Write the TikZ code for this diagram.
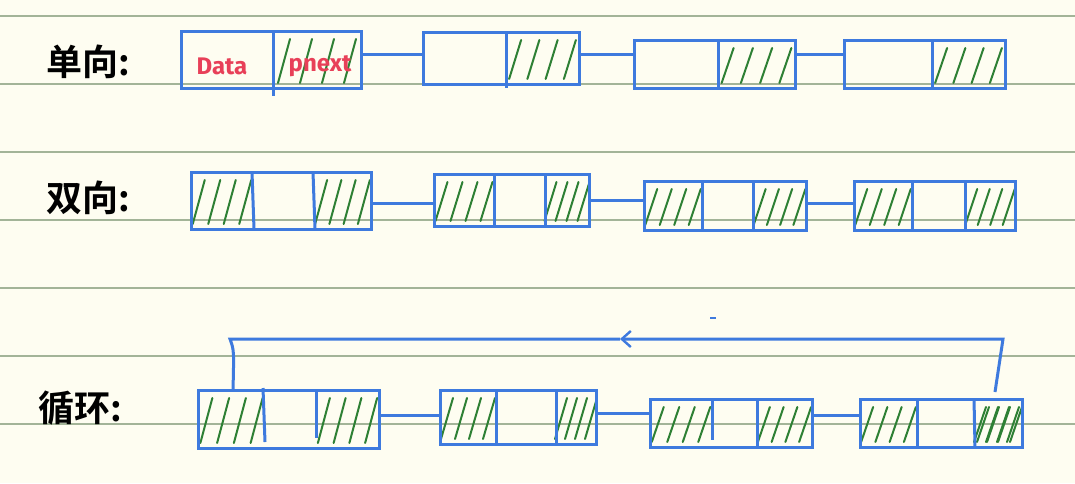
\documentclass[tikz,border=0pt]{standalone}
\usepackage{fontspec}
\newfontfamily\cjk{Noto Sans CJK SC Bold}
\newfontfamily\hand{Fira Sans}
\usetikzlibrary{arrows.meta}
\definecolor{paper}{RGB}{254,253,241}
\definecolor{rule}{RGB}{163,180,152}
\definecolor{pen}{RGB}{62,122,222}
\definecolor{hatchgreen}{RGB}{46,128,52}
\definecolor{ink}{RGB}{232,64,88}
\newcommand\hatchcell[4]{%
  \foreach \i in {1,...,4}{%
    \draw[hatchline] ({#1+(\i-0.5)*(#3-#1)/4-6},{#4-5}) -- ++(12,{-(#4-#2)+13});
  }}
\begin{document}
\begin{tikzpicture}[x=1pt,y=-1pt,
  rulestyle/.style={draw=rule,line width=2pt},
  listbox/.style={draw=pen,line width=3pt,rectangle,inner sep=0pt},
  divider/.style={draw=pen,line width=3pt},
  link/.style={draw=pen,line width=3pt},
  hatchline/.style={draw=hatchgreen,line width=2pt,line cap=round},
  label/.style={font=\cjk\fontsize{36}{38}\selectfont,text=black,anchor=center},
  redtext/.style={font=\hand\bfseries\fontsize{24}{26}\selectfont,text=ink}]
\useasboundingbox (0,0) rectangle (1075,483);
\fill[paper] (0,0) rectangle (1075,483);
\foreach \y in {16,84,152,220,288,356,424}{\draw[rulestyle] (0,\y) -- (1075,\y);}

% labels
\node[label] (l1) at (88,62) {单向:};
\node[label] (l2) at (88,198) {双向:};
\node[label] (l3) at (80,408) {循环:};

% hatching (drawn first so boxes lie on top)
\hatchcell{273}{31}{361}{88}
\hatchcell{506}{32}{579}{84}
\hatchcell{718}{40}{795}{88}
\hatchcell{932}{40}{1005}{88}
\hatchcell{191}{172}{253}{229}
\hatchcell{314}{172}{371}{229}
\hatchcell{434}{174}{494}{226}
\hatchcell{545}{174}{589}{226}
\hatchcell{644}{181}{702}{230}
\hatchcell{753}{181}{806}{230}
\hatchcell{854}{181}{912}{230}
\hatchcell{965}{181}{1015}{230}
\hatchcell{198}{390}{265}{448}
\hatchcell{316}{390}{379}{448}
\hatchcell{440}{390}{496}{444}
\hatchcell{556}{390}{596}{444}
\hatchcell{650}{399}{712}{447}
\hatchcell{757}{399}{812}{447}
\hatchcell{860}{399}{917}{447}
\hatchcell{974}{399}{1022}{447}
\hatchcell{978}{399}{1018}{447}

% row 1: singly linked
\node[listbox,minimum width=180pt,minimum height=57pt] (a1) at (271,59.5) {};
\node[listbox,minimum width=156pt,minimum height=52pt] (a2) at (501,58) {};
\node[listbox,minimum width=161pt,minimum height=48pt] (a3) at (714.5,64) {};
\node[listbox,minimum width=161pt,minimum height=48pt] (a4) at (924.5,64) {};
\draw[divider] (273,31) -- (273,96);
\draw[divider] (506,32) -- (506,88);
\draw[divider] (718,40) -- (718,88);
\draw[divider] (932,40) -- (932,88);
\node[redtext] (d1) at (222,66) {Data};
\node[redtext] (p1) at (320,66) {pnext};
\draw[link] ([yshift=5pt]a1.east) -- ([yshift=5pt]a1.east -| a2.west);
\draw[link] ([yshift=4pt]a2.east) -- ([yshift=4pt]a2.east -| a3.west);
\draw[link] ([yshift=10pt]a3.east) -- ([yshift=10pt]a3.east -| a4.west);

% row 2: doubly linked
\node[listbox,minimum width=180pt,minimum height=57pt] (b1) at (281.5,201) {};
\node[listbox,minimum width=155pt,minimum height=52pt] (b2) at (511.5,200) {};
\node[listbox,minimum width=162pt,minimum height=49pt] (b3) at (725,205.5) {};
\node[listbox,minimum width=161pt,minimum height=49pt] (b4) at (934.5,205.5) {};
\draw[divider] (252,172) -- (254,229);
\draw[divider] (313,172) -- (315,229);
\draw[divider] (494,174) -- (494,226);
\draw[divider] (545,174) -- (545,226);
\draw[divider] (702,181) -- (702,230);
\draw[divider] (753,181) -- (753,230);
\draw[divider] (912,181) -- (912,230);
\draw[divider] (965,181) -- (965,230);
\draw[link] ([yshift=-2pt]b1.east) -- ([yshift=-2pt]b1.east -| b2.west);
\draw[link] (b2.east) -- (b2.east -| b3.west);
\draw[link] ([yshift=2pt]b3.east) -- ([yshift=2pt]b3.east -| b4.west);

% row 3: circular
\node[listbox,minimum width=181pt,minimum height=58pt] (c1) at (288.5,419) {};
\node[listbox,minimum width=156pt,minimum height=54pt] (c2) at (518,417) {};
\node[listbox,minimum width=162pt,minimum height=48pt] (c3) at (731,423) {};
\node[listbox,minimum width=162pt,minimum height=48pt] (c4) at (941,423) {};
\draw[divider] (263,388) -- (265,442);
\draw[divider] (316,390) -- (316,438);
\draw[divider] (496,390) -- (496,444);
\draw[divider] (556,390) -- (556,444);
\draw[divider] (712,399) -- (712,440);
\draw[divider] (757,399) -- (757,447);
\draw[divider] (917,399) -- (917,447);
\draw[divider] (974,399) -- (975,447);
\draw[link] ([yshift=4pt]c1.east) -- ([yshift=4pt]c1.east -| c2.west);
\draw[link] ([yshift=4pt]c2.east) -- ([yshift=4pt]c2.east -| c3.west);
\draw[link] ([yshift=8pt]c3.east) -- ([yshift=8pt]c3.east -| c4.west);

% return link
\coordinate (r0) at (995,392);
\coordinate (r1) at (1003,339);
\coordinate (rm) at (620,339);
\coordinate (r2) at (230,339);
\coordinate (r3) at (233,390);
\draw[link,-{Straight Barb[length=9pt,width=16pt,line width=2.4pt]}] (r0) -- (r1) -- (rm);
\draw[link] (rm) -- (r2) .. controls (234,350) .. (r3);
\draw[pen,line width=2pt] (710,318) -- (716,318);
\end{tikzpicture}
\end{document}
